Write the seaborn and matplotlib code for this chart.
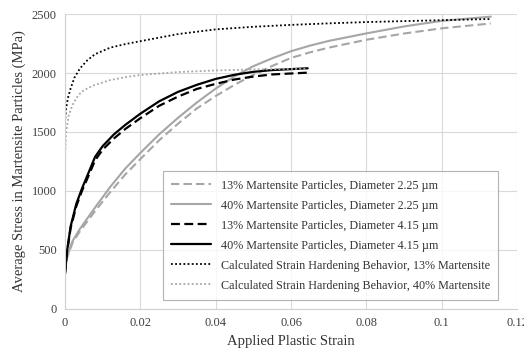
import pandas as pd
import seaborn as sns
import matplotlib.pyplot as plt

# --- data ---
d225_13_x = [0, 0.0005, 0.002, 0.004, 0.008, 0.012, 0.016, 0.02, 0.025, 0.03, 0.035, 0.04,
             0.045, 0.05, 0.055, 0.06, 0.065, 0.07, 0.08, 0.09, 0.1, 0.113]
d225_13_y = [300, 430, 560, 660, 830, 990, 1140, 1270, 1430, 1570, 1700, 1805,
             1900, 1985, 2060, 2128, 2175, 2215, 2282, 2335, 2379, 2420]

d225_40_x = [0, 0.0005, 0.002, 0.004, 0.008, 0.012, 0.016, 0.02, 0.025, 0.03, 0.035, 0.04,
             0.045, 0.05, 0.055, 0.06, 0.065, 0.07, 0.08, 0.09, 0.1, 0.113]
d225_40_y = [300, 440, 575, 680, 860, 1034, 1190, 1322, 1480, 1620, 1750, 1868,
             1972, 2058, 2125, 2185, 2232, 2272, 2336, 2395, 2442, 2478]

d415_13_x = [0, 0.0005, 0.0015, 0.003, 0.0045, 0.006, 0.008, 0.01, 0.013, 0.016, 0.02,
             0.025, 0.03, 0.035, 0.04, 0.045, 0.05, 0.055, 0.0644]
d415_13_y = [300, 470, 685, 870, 1000, 1110, 1260, 1350, 1445, 1525, 1617,
             1722, 1800, 1865, 1908, 1945, 1970, 1988, 2003]

d415_40_x = [0, 0.0005, 0.0015, 0.003, 0.0045, 0.006, 0.008, 0.01, 0.013, 0.016, 0.02,
             0.025, 0.03, 0.035, 0.04, 0.045, 0.05, 0.055, 0.0644]
d415_40_y = [300, 480, 700, 890, 1020, 1135, 1290, 1380, 1480, 1560, 1655,
             1760, 1840, 1900, 1950, 1985, 2010, 2025, 2040]

calc13_x = [0, 0.0003, 0.0008, 0.0015, 0.0025, 0.004, 0.006, 0.008, 0.012, 0.016, 0.02,
            0.03, 0.04, 0.05, 0.06, 0.07, 0.08, 0.09, 0.1, 0.113]
calc13_y = [1580, 1700, 1790, 1870, 1960, 2040, 2110, 2160, 2215, 2245, 2270,
            2330, 2370, 2392, 2408, 2421, 2432, 2440, 2448, 2458]

calc40_x = [0, 0.0003, 0.001, 0.002, 0.0035, 0.005, 0.0076, 0.012, 0.016, 0.02, 0.03,
            0.04, 0.05, 0.064]
calc40_y = [1280, 1500, 1640, 1730, 1810, 1855, 1895, 1940, 1965, 1983, 2008,
            2022, 2030, 2036]

labels = [
    "13% Martensite Particles, Diameter 2.25 \u00b5m",
    "40% Martensite Particles, Diameter 2.25 \u00b5m",
    "13% Martensite Particles, Diameter 4.15 \u00b5m",
    "40% Martensite Particles, Diameter 4.15 \u00b5m",
    "Calculated Strain Hardening Behavior, 13% Martensite",
    "Calculated Strain Hardening Behavior, 40% Martensite",
]

series = [
    (d225_13_x, d225_13_y, "#a6a6a6", (0, (4, 2)), 1.5),
    (d225_40_x, d225_40_y, "#a6a6a6", "-", 1.5),
    (d415_13_x, d415_13_y, "black", (0, (4, 2)), 1.6),
    (d415_40_x, d415_40_y, "black", "-", 1.6),
    (calc13_x, calc13_y, "black", (0, (1, 1.3)), 1.3),
    (calc40_x, calc40_y, "#a6a6a6", (0, (1, 1.3)), 1.3),
]

sns.set_theme(style="whitegrid")
plt.rcParams["font.family"] = ["Liberation Serif", "DejaVu Serif"]

fig = plt.figure(figsize=(5.24, 3.51), dpi=100)
ax = fig.add_axes([0.124, 0.12, 0.863, 0.84])

for (xs, ys, col, ls, lw), lab in zip(series, labels):
    df = pd.DataFrame({"strain": xs, "stress": ys})
    sns.lineplot(data=df, x="strain", y="stress", color=col, linestyle=ls,
                 linewidth=lw, label=lab, ax=ax, sort=False)

ax.set_xlim(0, 0.12)
ax.set_ylim(0, 2500)
ax.set_xticks([0, 0.02, 0.04, 0.06, 0.08, 0.1, 0.12])
ax.set_xticklabels(["0", "0.02", "0.04", "0.06", "0.08", "0.1", "0.12"])
ax.set_yticks([0, 500, 1000, 1500, 2000, 2500])
ax.tick_params(labelsize=9, colors="#404040", length=0, pad=6)
ax.grid(color="#d9d9d9", linewidth=0.8)
for s in ["top", "right"]:
    ax.spines[s].set_visible(False)
for s in ["left", "bottom"]:
    ax.spines[s].set_color("#d0d0d0")
    ax.spines[s].set_linewidth(0.8)

ax.set_xlabel("Applied Plastic Strain", fontsize=10.5, color="#333333")
ax.set_ylabel("Average Stress in Martensite Particles (MPa)", fontsize=10.5, color="#333333")

leg = ax.legend(loc="lower right", bbox_to_anchor=(0.958, 0.03), borderaxespad=0,
                fontsize=8.7, frameon=True, fancybox=False, edgecolor="#a0a0a0",
                handlelength=3.3, labelspacing=0.66, borderpad=0.7)
leg.get_frame().set_linewidth(0.8)
for t in leg.get_texts():
    t.set_color("#333333")

fig.savefig("out.png", dpi=100)
